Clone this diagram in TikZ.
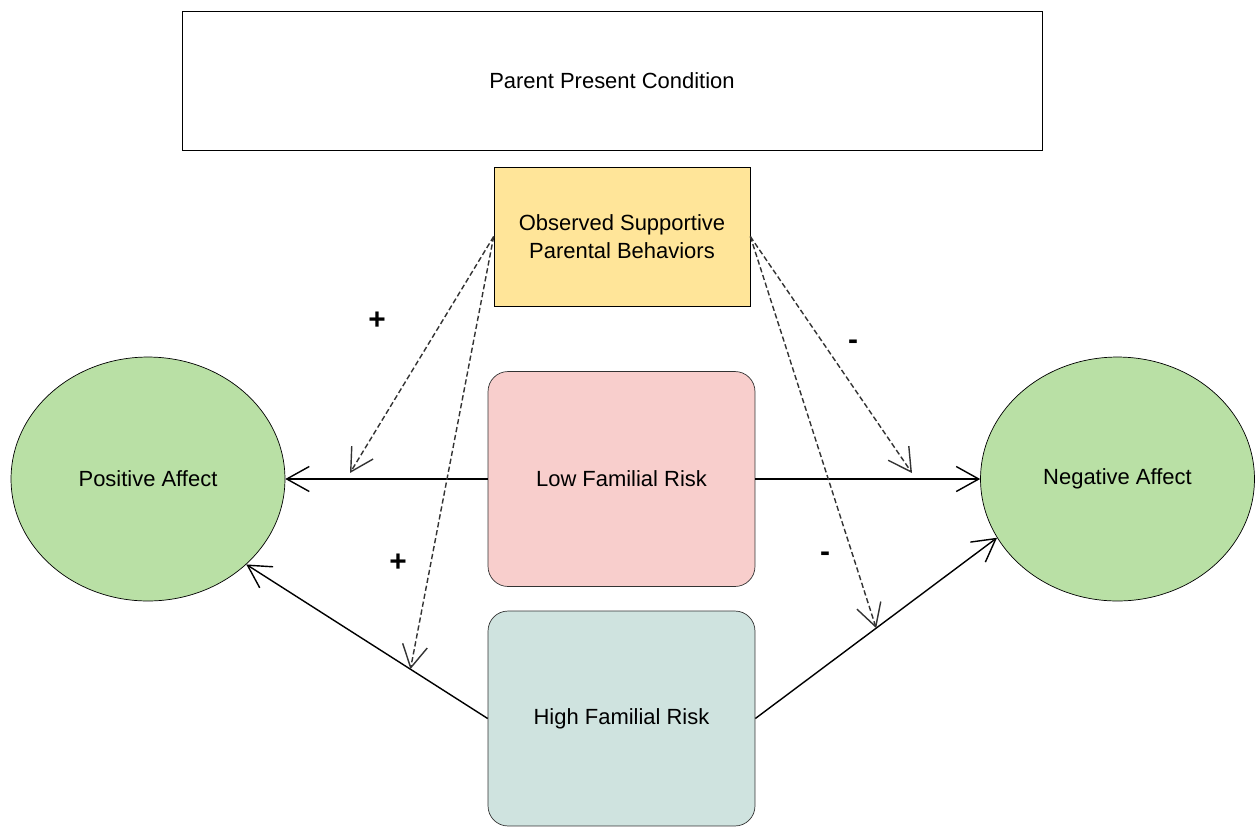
\documentclass[tikz,border=0pt]{standalone}
\usepackage{fontspec}
\setmainfont{Liberation Sans}
\usepackage{tikz}
\usetikzlibrary{arrows.meta,positioning,shapes.geometric,calc}
\definecolor{obsfill}{HTML}{FFE599}
\definecolor{lowfill}{HTML}{F8CECC}
\definecolor{highfill}{HTML}{CFE3DF}
\definecolor{affectfill}{HTML}{B9E0A5}
\definecolor{edge}{HTML}{333333}

\begin{document}
\begin{tikzpicture}[x=0.02cm,y=-0.02cm,
 base/.style={font=\fontsize{12.5}{16}\selectfont,align=center,inner sep=0pt},
 condbox/.style={base,draw=black,fill=white,minimum width=17.2cm,minimum height=2.78cm},
 obsbox/.style={base,draw=black,fill=obsfill,minimum width=5.12cm,minimum height=2.78cm},
 riskbox/.style={base,draw=edge,rounded corners=0.4cm,minimum width=5.34cm,minimum height=4.3cm},
 affect/.style={base,ellipse,draw=black,fill=affectfill,minimum width=5.48cm,minimum height=4.88cm},
 sign/.style={font=\fontsize{17}{17}\selectfont\bfseries,inner sep=0pt},
 arr/.style={-{Straight Barb[length=4.5mm,width=5mm]},draw=black,line width=0.8pt},
 modarr/.style={-{Straight Barb[length=4.5mm,width=5mm]},draw=edge,line width=0.8pt,
 dash pattern=on 3pt off 1.6pt}]
\useasboundingbox (0,0) rectangle (1255,826);
\node[condbox] (cond) at (612,80.5) {Parent Present Condition};
\node[obsbox] (obs) at (622,236.5) {Observed Supportive\\Parental Behaviors};
\node[riskbox,fill=lowfill] (low) at (621.5,479) {Low Familial Risk};
\node[riskbox,fill=highfill] (high) at (621.5,718.5) {High Familial Risk};
\node[affect] (pos) at (148,479) {Positive Affect};
\node[affect] (neg) at (1117.5,479) {Negative Affect};
\draw[arr] (low.west)--(pos.east);
\draw[arr] (low.east)--(neg.west);
\draw[arr] (high.west)--(pos.-41);
\draw[arr] (high.east)--(neg.206);
% moderation by observed behaviours
\coordinate (posLow) at (350,473);
\coordinate (negLow) at (912,473);
\coordinate (posHigh) at ($(high.west)!0.32!(pos.-41)$);
\coordinate (negHigh) at ($(high.east)!0.5!(neg.206)$);
\draw[modarr] (obs.west)--(posLow);
\draw[modarr] (obs.west)--(posHigh);
\draw[modarr] (obs.east)--(negLow);
\draw[modarr] (obs.east)--(negHigh);
\node[sign] (plusLow) at (377,321) {+};
\node[sign] (plusHigh) at (398,563) {+};
\node[sign] (minusLow) at (853,345) {-};
\node[sign] (minusHigh) at (825,557) {-};
\end{tikzpicture}
\end{document}
